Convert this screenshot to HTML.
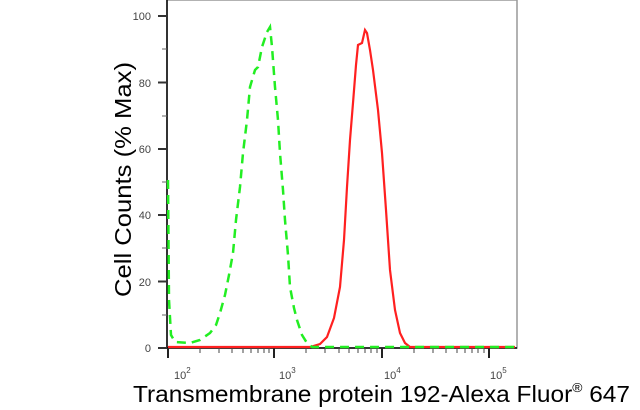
<!DOCTYPE html>
<html><head><style>
body{margin:0;background:#fff;width:640px;height:410px;overflow:hidden}
svg{display:block}
</style></head><body>
<svg width="640" height="410" xmlns="http://www.w3.org/2000/svg" font-family="Liberation Sans, sans-serif">
<rect x="167" y="0" width="350" height="348" fill="none" stroke="#999" stroke-width="1.5"/>
<line x1="167" y1="0" x2="167" y2="349" stroke="#000" stroke-width="1.5"/>
<line x1="166" y1="348" x2="517" y2="348" stroke="#000" stroke-width="1.5"/>
<g stroke="#333" stroke-width="2">
<line x1="158" y1="16" x2="167" y2="16"/><line x1="158" y1="82.5" x2="167" y2="82.5"/><line x1="158" y1="149" x2="167" y2="149"/><line x1="158" y1="215" x2="167" y2="215"/><line x1="158" y1="281.5" x2="167" y2="281.5"/><line x1="158" y1="348" x2="167" y2="348"/>
</g>
<g stroke="#666" stroke-width="1">
<line x1="162" y1="49" x2="167" y2="49"/><line x1="162" y1="116" x2="167" y2="116"/><line x1="162" y1="182" x2="167" y2="182"/><line x1="162" y1="248" x2="167" y2="248"/><line x1="162" y1="315" x2="167" y2="315"/>
</g>
<g font-size="11" fill="#444" text-anchor="end">
<text x="151" y="20">100</text><text x="151" y="87">80</text><text x="151" y="153">60</text><text x="151" y="219">40</text><text x="151" y="286">20</text><text x="151" y="352">0</text>
</g>
<g stroke="#222" stroke-width="2">
<line x1="168" y1="348" x2="168" y2="358"/><line x1="274" y1="348" x2="274" y2="358"/><line x1="382" y1="348" x2="382" y2="358"/><line x1="489" y1="348" x2="489" y2="358"/>
</g>
<g stroke="#444" stroke-width="1">
<line x1="200" y1="348" x2="200" y2="353"/><line x1="219" y1="348" x2="219" y2="353"/><line x1="232" y1="348" x2="232" y2="353"/><line x1="243" y1="348" x2="243" y2="353"/><line x1="251" y1="348" x2="251" y2="353"/><line x1="258" y1="348" x2="258" y2="353"/><line x1="264" y1="348" x2="264" y2="353"/><line x1="269" y1="348" x2="269" y2="353"/>
<line x1="306" y1="348" x2="306" y2="353"/><line x1="325" y1="348" x2="325" y2="353"/><line x1="339" y1="348" x2="339" y2="353"/><line x1="349" y1="348" x2="349" y2="353"/><line x1="358" y1="348" x2="358" y2="353"/><line x1="365" y1="348" x2="365" y2="353"/><line x1="371" y1="348" x2="371" y2="353"/><line x1="377" y1="348" x2="377" y2="353"/>
<line x1="414" y1="348" x2="414" y2="353"/><line x1="433" y1="348" x2="433" y2="353"/><line x1="446" y1="348" x2="446" y2="353"/><line x1="457" y1="348" x2="457" y2="353"/><line x1="465" y1="348" x2="465" y2="353"/><line x1="472" y1="348" x2="472" y2="353"/><line x1="478" y1="348" x2="478" y2="353"/><line x1="484" y1="348" x2="484" y2="353"/>
</g>
<g font-size="11" fill="#444">
<text x="174" y="379">10<tspan font-size="8" dy="-6">2</tspan></text>
<text x="279" y="379">10<tspan font-size="8" dy="-6">3</tspan></text>
<text x="384" y="379">10<tspan font-size="8" dy="-6">4</tspan></text>
<text x="490" y="379">10<tspan font-size="8" dy="-6">5</tspan></text>
</g>
<polyline fill="none" stroke="#ff2020" stroke-width="2.2" points="168,347 300,347 310,347 320,344 327,337 334,318 340,287 344,240 347,187 350,140 353,103 356,65 358,45 362,43 365,30 367,33 370,50 373,70 378,110 382,153 386,210 390,270 395,310 400,333 405,343 410,347 515,347"/>
<polyline fill="none" stroke="#22ee22" stroke-width="2.5" stroke-dasharray="9,6" points="168,180 169,300 171,335 175,342 190,343 200,340 210,333 216,325 220,313 225,295 229,275 233,253 236,220 240,187 243,153 247,120 250,87 255,70 258,67 262,47 267,32 270,27 272,47 275,87 278,120 280,153 283,190 285,220 288,255 290,287 294,308 297,320 302,335 307,343 312,347 515,347"/>
<text transform="translate(131,297) rotate(-90)" font-size="23" fill="#000" textLength="235" lengthAdjust="spacingAndGlyphs">Cell Counts (% Max)</text>
<text x="133" y="402" font-size="23" fill="#000" textLength="497" lengthAdjust="spacingAndGlyphs">Transmembrane protein 192-Alexa Fluor<tspan font-size="13" dy="-10">®</tspan><tspan dy="10"> 647</tspan></text>
</svg>
</body></html>
